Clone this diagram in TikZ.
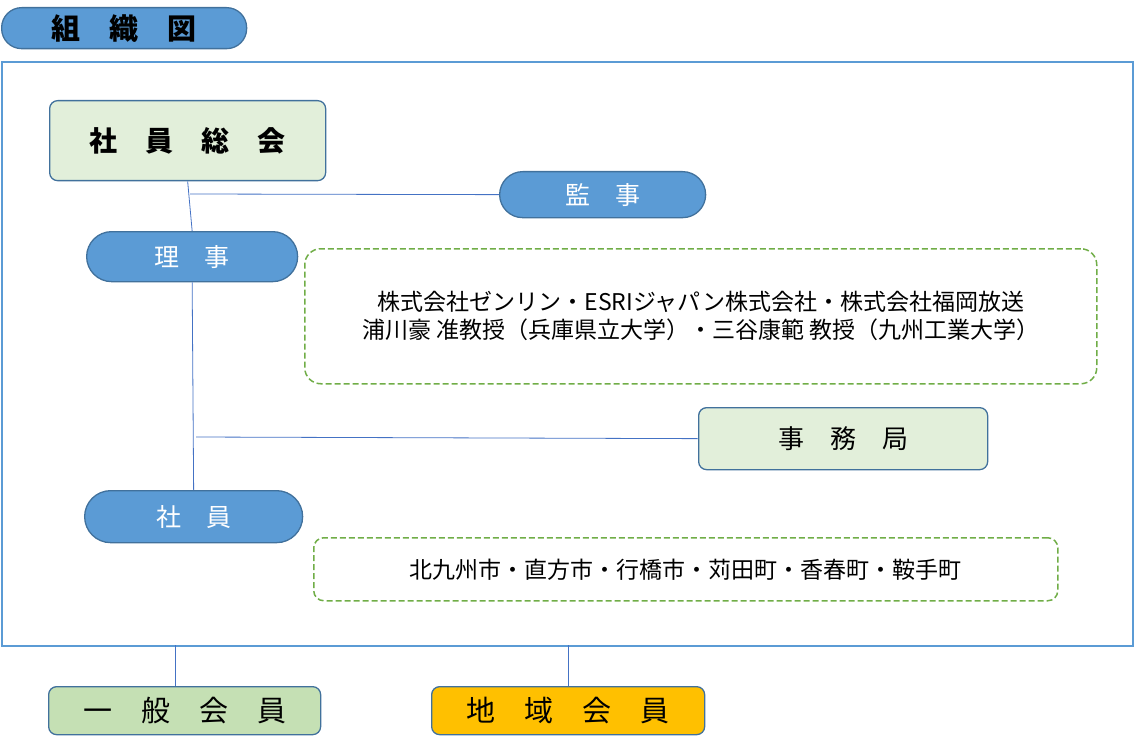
\documentclass[tikz,border=0pt]{standalone}
\usepackage{fontspec}
\setmainfont{Noto Sans CJK JP}
\definecolor{bfill}{HTML}{5B9BD5}
\definecolor{bdraw}{HTML}{41719C}
\definecolor{lgreen}{HTML}{E2EFDA}
\definecolor{mgreen}{HTML}{C5E0B4}
\definecolor{gold}{HTML}{FFC000}
\definecolor{dgreen}{HTML}{70AD47}
\definecolor{conn}{HTML}{4472C4}
\newcommand{\gp}{\hspace{1em}}
\tikzset{
  box/.style={draw=bdraw, line width=1.3pt, rounded corners=8pt, inner sep=0pt, anchor=north west},
  pill/.style={draw=bdraw, line width=1.3pt, fill=bfill, inner sep=0pt, anchor=north west},
  dbox/.style={draw=dgreen, line width=1.5pt, dash pattern=on 6pt off 3pt, rounded corners=16pt, inner sep=0pt, anchor=north west, align=center},
  link/.style={draw=conn, line width=0.8pt},
}
\begin{document}
\begin{tikzpicture}[x=1pt,y=-1pt]
\useasboundingbox (0,0) rectangle (1134,746);
% frame
\node[draw=bfill, line width=2pt, minimum width=1131pt, minimum height=584pt, inner sep=0pt, anchor=north west] (frame) at (1,61) {};
% title
\node[pill, rounded corners=20pt, minimum width=245pt, minimum height=41pt, font=\fontsize{29}{32}\selectfont\bfseries] (title) at (1,7) {組\gp 織\gp 図};
% nodes
\node[box, fill=lgreen, minimum width=276pt, minimum height=80pt, font=\fontsize{28}{32}\selectfont\bfseries] (soukai) at (49,100) {社\gp 員\gp 総\gp 会};
\node[pill, rounded corners=23pt, minimum width=206pt, minimum height=46pt, text=white, font=\fontsize{25}{28}\selectfont] (kanji) at (499,171) {監\gp 事};
\node[pill, rounded corners=25pt, minimum width=211pt, minimum height=50pt, text=white, font=\fontsize{25}{28}\selectfont] (riji) at (86,231) {理\gp 事};
\node[dbox, minimum width=792pt, minimum height=135pt, font=\fontsize{23}{28}\selectfont] (riji-list) at (304,248) {株式会社ゼンリン・ESRIジャパン株式会社・株式会社福岡放送\\浦川豪 准教授（兵庫県立大学）・三谷康範 教授（九州工業大学）};
\node[box, fill=lgreen, minimum width=289pt, minimum height=62pt, font=\fontsize{26}{28}\selectfont] (jimu) at (698,407) {事\gp 務\gp 局};
\node[pill, rounded corners=26pt, minimum width=218pt, minimum height=52pt, text=white, font=\fontsize{25}{28}\selectfont] (shain) at (84,490) {社\gp 員};
\node[dbox, rounded corners=10pt, minimum width=744pt, minimum height=63pt, font=\fontsize{23}{28}\selectfont] (shain-list) at (313,537) {北九州市・直方市・行橋市・苅田町・香春町・鞍手町};
\node[box, fill=mgreen, minimum width=272pt, minimum height=48pt, font=\fontsize{29}{32}\selectfont] (ippan) at (48,686) {一\gp 般\gp 会\gp 員};
\node[box, fill=gold, minimum width=273pt, minimum height=48pt, font=\fontsize{29}{32}\selectfont] (chiiki) at (431,686) {地\gp 域\gp 会\gp 員};
% connectors
\coordinate (j1) at (190,194);
\coordinate (j2) at (196,437);
\coordinate (f1) at (175,645);
\coordinate (f2) at (568,645);
\draw[link] (soukai.south) -- (riji.north);
\draw[link] (j1) -- (kanji.west);
\draw[link] (riji.south) -- (shain.north);
\draw[link] (j2) -- (jimu.west);
\draw[link] (f1) -- (f1 |- ippan.north);
\draw[link] (f2) -- (f2 |- chiiki.north);
\end{tikzpicture}
\end{document}
